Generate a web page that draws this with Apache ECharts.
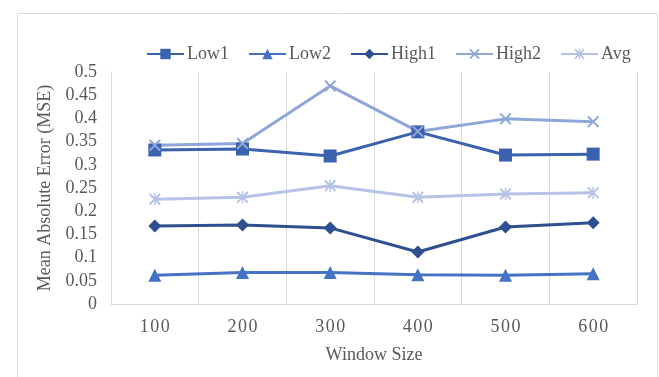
<!DOCTYPE html>
<html><head><meta charset="utf-8">
<script src="https://cdn.jsdelivr.net/npm/echarts@6/dist/echarts.min.js"></script>
<style>html,body{margin:0;padding:0;background:#fff}#c{width:659px;height:377px}</style>
</head><body><div id="c"></div>
<script>
var categories = ['100', '200', '300', '400', '500', '600'];
var low1 = [0.332, 0.334, 0.319, 0.371, 0.321, 0.323];
var low2 = [0.062, 0.068, 0.068, 0.063, 0.062, 0.065];
var high1 = [0.168, 0.170, 0.164, 0.112, 0.166, 0.175];
var high2 = [0.342, 0.346, 0.470, 0.372, 0.399, 0.393];
var avg = [0.226, 0.230, 0.255, 0.230, 0.237, 0.240];
var yTicks = {min: 0, max: 0.5, interval: 0.05};

var crossPath = 'path://M0,1.2 L1.2,0 L5,3.8 L8.8,0 L10,1.2 L6.2,5 L10,8.8 L8.8,10 L5,6.2 L1.2,10 L0,8.8 L3.8,5 Z';
var starPath = 'path://M0,1.2 L1.2,0 L5,3.8 L8.8,0 L10,1.2 L6.2,5 L10,8.8 L8.8,10 L5,6.2 L1.2,10 L0,8.8 L3.8,5 Z M4.4,0 L5.6,0 L5.6,10 L4.4,10 Z';

var font = '"Liberation Serif", "Times New Roman", serif';
function mk(name, data, color, symbol, size) {
  return {name: name, type: 'line', data: data, symbol: symbol, symbolSize: size,
    lineStyle: {color: color, width: 3}, itemStyle: {color: color}, z: 3};
}
var chart = echarts.init(document.getElementById('c'));
chart.setOption({
  animation: false,
  textStyle: {fontFamily: font},
  graphic: [{type: 'rect', left: 15, top: 11, shape: {width: 640, height: 400},
    style: {fill: 'none', stroke: '#D9D9D9', lineWidth: 1}, silent: true, z: -10}],
  legend: {
    left: 146, top: 45, padding: 0, itemWidth: 37, itemHeight: 13, itemGap: 19,
    textStyle: {fontFamily: font, fontSize: 18, color: '#595959', padding: [0,0,0,-2]},
    data: ['Low1', 'Low2', 'High1', 'High2', 'Avg']
  },
  grid: {left: 111, right: 22, top: 72, bottom: 73},
  xAxis: {
    type: 'category', data: categories, boundaryGap: true,
    name: 'Window Size', nameLocation: 'middle', nameGap: 42,
    nameTextStyle: {fontFamily: font, fontSize: 18, color: '#595959'},
    axisLine: {show: true, lineStyle: {color: '#D9D9D9', width: 1}},
    axisTick: {show: false},
    axisLabel: {fontFamily: font, fontSize: 18, color: '#595959', margin: 14,
      formatter: function (v) { return v.split('').join('\u200A'); }},
    splitLine: {show: true, lineStyle: {color: '#D9D9D9', width: 1}}
  },
  yAxis: {
    type: 'value', min: yTicks.min, max: yTicks.max, interval: yTicks.interval,
    name: 'Mean Absolute Error (MSE)', nameLocation: 'middle', nameGap: 54,
    nameTextStyle: {fontFamily: font, fontSize: 18, color: '#595959'},
    axisLine: {show: true, lineStyle: {color: '#D9D9D9', width: 1}},
    axisTick: {show: false},
    splitLine: {show: false},
    axisLabel: {fontFamily: font, fontSize: 18, color: '#595959', margin: 14,
      formatter: function (v) { return String(parseFloat(v.toFixed(2))); }}
  },
  series: [
    mk('Low1', low1, '#3A62AE', 'rect', 13),
    mk('Low2', low2, '#4472C4', 'triangle', 13),
    mk('High1', high1, '#2E5090', 'diamond', 13),
    mk('High2', high2, '#8FA6D8', crossPath, 12),
    mk('Avg', avg, '#B4C3E6', starPath, 12)
  ]
});
</script></body></html>
